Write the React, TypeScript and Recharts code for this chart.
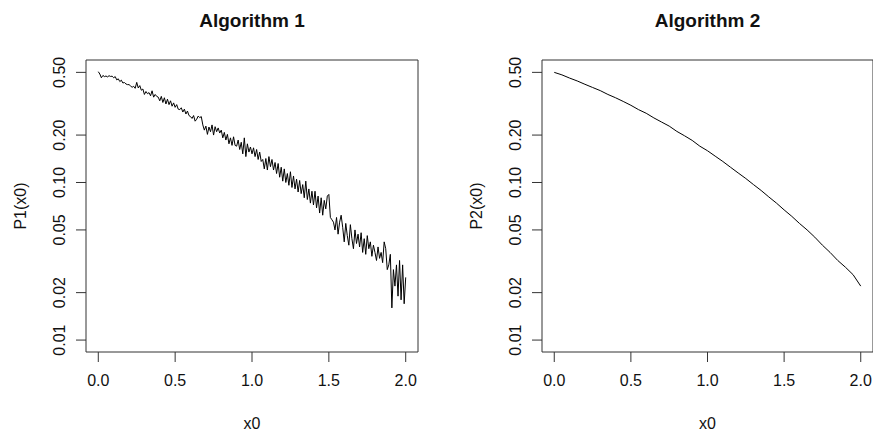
import React from 'react';
import { LineChart, Line, XAxis, YAxis, ReferenceArea, Label } from 'recharts';

// x0 grid: Algorithm 1 sampled every 0.01, Algorithm 2 every 0.05
const x0Alg1 = Array.from({ length: 201 }, (_, i) => i / 100);
const x0Alg2 = Array.from({ length: 41 }, (_, i) => i / 20);

// values (noisy Monte Carlo estimate)
const p1Values = [
  0.505, 0.488, 0.462, 0.478, 0.470, 0.474, 0.468, 0.476, 0.471, 0.473,
  0.462, 0.470, 0.448, 0.455, 0.437, 0.446, 0.428, 0.431, 0.422, 0.418,
  0.418, 0.410, 0.402, 0.408, 0.396, 0.432, 0.398, 0.412, 0.385, 0.392,
  0.362, 0.378, 0.366, 0.372, 0.355, 0.382, 0.348, 0.362, 0.352, 0.348,
  0.330, 0.352, 0.322, 0.345, 0.315, 0.338, 0.312, 0.330, 0.305, 0.320,
  0.300, 0.312, 0.292, 0.290, 0.298, 0.280, 0.292, 0.272, 0.284, 0.266,
  0.262, 0.255, 0.266, 0.245, 0.252, 0.264, 0.258, 0.262, 0.232, 0.215,
  0.228, 0.202, 0.225, 0.210, 0.232, 0.200, 0.226, 0.210, 0.222, 0.206,
  0.215, 0.192, 0.208, 0.186, 0.202, 0.176, 0.192, 0.172, 0.195, 0.172,
  0.170, 0.186, 0.162, 0.180, 0.152, 0.192, 0.146, 0.176, 0.156, 0.168,
  0.152, 0.166, 0.146, 0.162, 0.140, 0.156, 0.136, 0.140, 0.122, 0.142,
  0.120, 0.146, 0.126, 0.140, 0.120, 0.134, 0.114, 0.132, 0.108, 0.125,
  0.102, 0.122, 0.100, 0.114, 0.096, 0.117, 0.093, 0.110, 0.091, 0.105,
  0.087, 0.103, 0.085, 0.097, 0.080, 0.102, 0.078, 0.091, 0.074, 0.088,
  0.072, 0.088, 0.069, 0.082, 0.064, 0.080, 0.062, 0.077, 0.068, 0.082,
  0.084, 0.060, 0.058, 0.056, 0.050, 0.060, 0.047, 0.056, 0.062, 0.052,
  0.042, 0.055, 0.046, 0.040, 0.054, 0.044, 0.038, 0.050, 0.041, 0.047,
  0.039, 0.048, 0.036, 0.044, 0.035, 0.046, 0.038, 0.042, 0.034, 0.040,
  0.036, 0.032, 0.039, 0.033, 0.036, 0.031, 0.042, 0.038, 0.028, 0.030,
  0.035, 0.016, 0.028, 0.022, 0.030, 0.019, 0.032, 0.018, 0.030, 0.017,
  0.025,
];

// smooth estimate
const p2Values = [
  0.500, 0.482, 0.460, 0.441, 0.420, 0.401, 0.383, 0.362, 0.345, 0.327,
  0.309, 0.290, 0.275, 0.257, 0.242, 0.228, 0.211, 0.198, 0.185, 0.170,
  0.159, 0.147, 0.136, 0.125, 0.115, 0.106, 0.097, 0.089, 0.081, 0.074,
  0.067, 0.061, 0.055, 0.050, 0.045, 0.040, 0.036, 0.032, 0.029, 0.026,
  0.022,
];

const xTicks = [0, 0.5, 1, 1.5, 2];
const yTicks = [0.01, 0.02, 0.05, 0.1, 0.2, 0.5];
const xDomain: [number, number] = [-0.08, 2.08];
const yDomain: [number, number] = [0.0084, 0.599];

const FONT = '"Liberation Sans", Arial, sans-serif';
const INK = '#111';

const XTick = (props: any) => {
  const { x, y, payload } = props;
  return (
    <text x={x} y={y} dy="0.71em" textAnchor="middle" fontSize={16} fontFamily={FONT} fill={INK}>
      {Number(payload.value).toFixed(1)}
    </text>
  );
};

const YTick = (props: any) => {
  const { x, y, payload } = props;
  return (
    <text
      x={x}
      y={y}
      textAnchor="middle"
      transform={`rotate(-90 ${x} ${y})`}
      fontSize={16}
      fontFamily={FONT}
      fill={INK}
    >
      {Number(payload.value).toFixed(2)}
    </text>
  );
};

function frameLabels(title: string, ylab: string) {
  return (props: any) => {
    const vb = props.viewBox || {};
    const cx = vb.x + vb.width / 2;
    const cy = vb.y + vb.height / 2;
    return (
      <g fontFamily={FONT} fill={INK}>
        <text x={cx} y={vb.y - 33} textAnchor="middle" fontSize={19} fontWeight="bold">
          {title}
        </text>
        <text x={vb.x - 60} y={cy} textAnchor="middle" fontSize={16} transform={`rotate(-90 ${vb.x - 60} ${cy})`}>
          {ylab}
        </text>
        <text x={cx} y={vb.y + vb.height + 77} textAnchor="middle" fontSize={16}>
          x0
        </text>
      </g>
    );
  };
}

interface PanelProps {
  data: Array<{ x: number; p: number }>;
  title: string;
  ylab: string;
  width: number;
  yAxisWidth: number;
  right: number;
}

function Panel({ data, title, ylab, width, yAxisWidth, right }: PanelProps) {
  return (
    <LineChart width={width} height={432} data={data} margin={{ top: 60, right, left: 0, bottom: 0 }}>
      <XAxis
        dataKey="x"
        type="number"
        domain={xDomain}
        allowDataOverflow
        ticks={xTicks}
        interval={0}
        height={80}
        tickSize={10}
        tickMargin={13}
        axisLine={false}
        tickLine={{ stroke: '#333' }}
        tick={XTick}
      />
      <YAxis
        type="number"
        scale="log"
        domain={yDomain}
        allowDataOverflow
        ticks={yTicks}
        interval={0}
        width={yAxisWidth}
        tickSize={10}
        tickMargin={11}
        axisLine={false}
        tickLine={{ stroke: '#333' }}
        tick={YTick}
      />
      <ReferenceArea
        x1={xDomain[0]}
        x2={xDomain[1]}
        y1={yDomain[0]}
        y2={yDomain[1]}
        fill="none"
        stroke="#333"
        strokeWidth={1}
        ifOverflow="visible"
      >
        <Label content={frameLabels(title, ylab)} />
      </ReferenceArea>
      <Line
        type="linear"
        dataKey="p"
        stroke="#000"
        strokeWidth={1}
        dot={false}
        activeDot={false}
        isAnimationActive={false}
      />
    </LineChart>
  );
}

export default function App() {
  const data1 = x0Alg1.map((x, i) => ({ x, p: p1Values[i] }));
  const data2 = x0Alg2.map((x, i) => ({ x, p: p2Values[i] }));
  return (
    <div style={{ position: 'absolute', left: 0, top: 0, width: 873, height: 432, background: '#fff', overflow: 'hidden' }}>
      <div style={{ position: 'absolute', left: 0, top: 0 }}>
        <Panel data={data1} title="Algorithm 1" ylab="P1(x0)" width={440} yAxisWidth={86} right={22} />
      </div>
      <div style={{ position: 'absolute', left: 440, top: 0 }}>
        <Panel data={data2} title="Algorithm 2" ylab="P2(x0)" width={433} yAxisWidth={102} right={0} />
      </div>
    </div>
  );
}
